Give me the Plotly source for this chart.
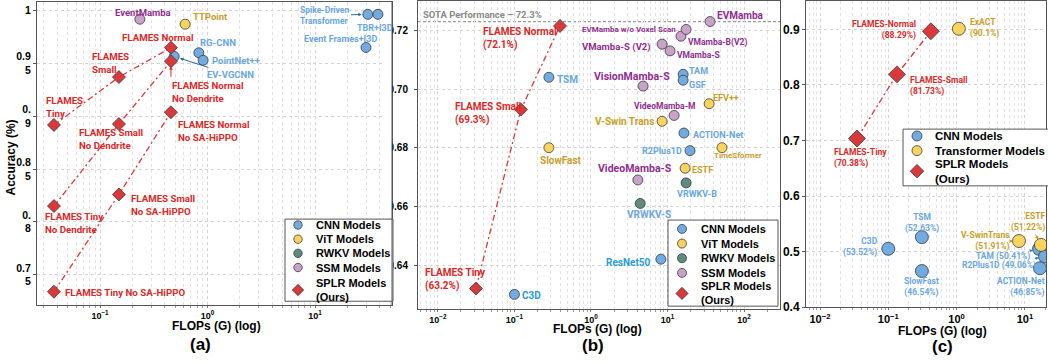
import numpy as np
import plotly.graph_objects as go

W, H = 1048, 364

# ---------------- Panel (a) data ----------------
a_cnn_labels = ["RG-CNN", "PointNet++", "EV-VGCNN", "Spike-Driven<br>Transformer", "TBR+I3D", "Event Frames+I3D"]
a_cnn_flops = [0.83, 0.91, 0.49, 31.0, 38.5, 29.8]
a_cnn_acc = [0.960, 0.9528, 0.9565, 0.9963, 0.9963, 0.965]
a_vit_labels = ["TTPoint"]
a_vit_flops = [0.62]
a_vit_acc = [0.987]
a_ssm_labels = ["EventMamba"]
a_ssm_flops = [0.235]
a_ssm_acc = [0.9917]
a_splr_flops = [0.0373, 0.150, 0.457]
a_full_acc = [0.8917, 0.937, 0.9648]
a_full_labels = ["FLAMES<br>Tiny", "FLAMES<br>Small", "FLAMES Normal"]
a_nodend_acc = [0.815, 0.8926, 0.952]
a_nodend_labels = ["FLAMES Tiny<br>No Dendrite", "FLAMES Small<br>No Dendrite", "FLAMES Normal<br>No Dendrite"]
a_nohippo_acc = [0.734, 0.826, 0.9037]
a_nohippo_labels = ["FLAMES Tiny No SA-HiPPO", "FLAMES Small<br>No SA-HiPPO", "FLAMES Normal<br>No SA-HiPPO"]
a_ytick_vals = [0.75, 0.8, 0.85, 0.9, 0.95, 1.0]
a_ytick_text = ["0.7<br>5", "0.<br>8", "0.8<br>5", "0.<br>9", "0.9<br>5", "1"]

# ---------------- Panel (b) data ----------------
b_cnn_labels = ["TSM", "C3D", "TAM", "GSF", "ACTION-Net", "R2Plus1D", "ResNet50"]
b_cnn_flops = [0.282, 0.1, 16.0, 16.0, 16.4, 19.7, 8.2]
b_cnn_acc = [0.704, 0.630, 0.705, 0.703, 0.685, 0.679, 0.642]
b_vit_labels = ["SlowFast", "V-Swin Trans", "EFV++", "TimeSformer", "ESTF"]
b_vit_flops = [0.282, 8.5, 35.0, 51.5, 17.0]
b_vit_acc = [0.680, 0.689, 0.695, 0.680, 0.673]
b_rwkv_labels = ["VRWKV-S", "VRWKV-B"]
b_rwkv_flops = [4.4, 17.5]
b_rwkv_acc = [0.661, 0.668]
b_ssm_labels = ["VisionMamba-S", "VMamba-S (V2)", "VMamba-S", "VMamba-B(V2)",
                "EVMamba w/o Voxel Scan", "EVMamba", "VideoMamba-M", "VideoMamba-S"]
b_ssm_flops = [4.8, 8.5, 10.8, 15.0, 17.5, 36.0, 12.2, 4.1]
b_ssm_acc = [0.701, 0.7153, 0.713, 0.718, 0.7203, 0.723, 0.691, 0.669]
b_splr_labels = ["FLAMES Tiny<br>(63.2%)", "FLAMES Small<br>(69.3%)", "FLAMES Normal<br>(72.1%)"]
b_splr_flops = [0.0314, 0.1215, 0.394]
b_splr_acc = [0.632, 0.693, 0.7215]
b_sota = 0.723
b_ytick_vals = [0.64, 0.66, 0.68, 0.70, 0.72]
b_ytick_text = ["0.64", "0.66", "0.68", "0.70", "0.72"]

# ---------------- Panel (c) data ----------------
c_cnn_labels = ["C3D<br>(53.52%)", "TSM<br>(52.63%)", "SlowFast<br>(46.54%)", "TAM (50.41%)",
                "R2Plus1D (49.06%)", "ACTION-Net<br>(46.85%)"]
c_cnn_flops = [0.1, 0.31, 0.31, 16.1, 19.7, 16.6]
c_cnn_acc = [0.505, 0.526, 0.465, 0.505, 0.491, 0.470]
c_tr_labels = ["ExACT<br>(90.1%)", "V-SwinTrans<br>(51.91%)", "ESTF<br>(51.22%)"]
c_tr_flops = [1.08, 8.2, 17.2]
c_tr_acc = [0.901, 0.519, 0.512]
c_splr_labels = ["FLAMES-Tiny<br>(70.38%)", "FLAMES-Small<br>(81.73%)", "FLAMES-Normal<br>(88.29%)"]
c_splr_flops = [0.0348, 0.134, 0.42]
c_splr_acc = [0.7035, 0.819, 0.8965]
c_ytick_vals = [0.4, 0.5, 0.6, 0.7, 0.8, 0.9]

legend_ab = ["CNN Models", "ViT Models", "RWKV Models", "SSM Models", "SPLR Models<br>(Ours)"]
legend_c = ["CNN Models", "Transformer Models", "SPLR Models<br>(Ours)"]

# ---------------- styles ----------------
CNN_F, VIT_F, RWKV_F, SSM_F, SPLR_F = "#72AAE2", "#F8D35F", "#5E8C7E", "#C9A2C9", "#D9393B"
CNN_T, CNN_T2, VIT_T, SSM_T, SPLR_T = "#6BA6DC", "#2C9BD0", "#C79E2C", "#8E2D8E", "#D42A2A"
EDGE = "#3a3a3a"
LF = "Roboto"
TF = "Liberation Sans"

# label styles: (anchor, xshift, yshift, size) ; anchor 'arrow' -> (ax, ay)
a_cnn_sty = [("left", -1, 10, 9.5), ("left", 7, 0, 9.5), ("arrow", 56, 18, 9.5),
             ("arrow", -43, 1, 8.5), ("center", -3, -14, 9), ("center", -26, 8, 9)]
a_vit_sty = [("left", 6, 8, 9.5)]
a_ssm_sty = [("center", 3, 7, 9.5)]
a_full_sty = [("left", -10, 18, 9.7), ("left", -29, 14, 9.7), ("center", -13, 10, 9.7)]
a_nodend_sty = [("left", -11, -17, 9.7), ("left", -42, -15, 9.7), ("left", -1, -31, 9.7)]
a_nohippo_sty = [("left", 9, -1, 9.7), ("left", 10, -11, 9.7), ("left", 5, -19, 9.7)]

b_cnn_sty = [("left", 6, -2, 10), ("left", 6, -1, 10), ("left", 4, 3, 9), ("left", 4, -5, 9),
             ("left", 7, -2, 9), ("right", -6, 0, 9), ("right", -8, -3, 10)]
b_cnn_col = [CNN_T, CNN_T2, CNN_T, CNN_T, CNN_T, CNN_T, CNN_T2]
b_vit_sty = [("center", 12, -13, 10), ("right", -6, 0, 10), ("left", 2, 6, 9),
             ("center", 16, -8, 8), ("left", 5, -2, 9)]
b_rwkv_sty = [("center", 9, -11, 10), ("center", 11, -11, 9)]
b_ssm_sty = [("center", -11, 10, 10.5), ("right", -9, -3, 9.5), ("left", 5, -4, 8.5),
             ("left", 5, -6, 8.5), ("right", -8, 0, 8), ("left", 5, 6, 10),
             ("center", -10, 9, 8.5), ("center", -3, 11, 10.5)]
b_splr_sty = [("left", -53, 9, 10), ("left", -68, -4, 10), ("left", -79, -13, 10)]

c_cnn_sty = [("right", -8, 2, 8.5), ("center", 0, 14.5, 8.5), ("center", 0, -16, 8.5),
             ("arrow", -36, 8, 8.5), ("arrow", -46, 9, 8.5), ("right", 7, -19, 8.5)]
c_tr_sty = [("left", 9, 1, 8.5), ("arrow", -34, 0, 8.5), ("arrow", -12, -23, 8.5)]
c_splr_sty = [("left", -25, -19, 8.5), ("left", 11, -12, 8.5), ("right", -13, 1, 8.5)]

fig = go.Figure()
annotations = []
shapes = []


def add_markers(k, xs, ys, color, symbol, size):
    xr = "x" if k == 1 else f"x{k}"
    yr = "y" if k == 1 else f"y{k}"
    fig.add_trace(go.Scatter(x=xs, y=ys, xaxis=xr, yaxis=yr, mode="markers", showlegend=False,
                             marker=dict(color=color, symbol=symbol, size=size,
                                         line=dict(color=EDGE, width=0.8)), hoverinfo="skip"))


def add_line(k, xs, ys):
    xr = "x" if k == 1 else f"x{k}"
    yr = "y" if k == 1 else f"y{k}"
    fig.add_trace(go.Scatter(x=xs, y=ys, xaxis=xr, yaxis=yr, mode="lines", showlegend=False,
                             line=dict(color=SPLR_F, width=1.3, dash="6px,3px,2px,3px"),
                             hoverinfo="skip"))


def add_labels(k, xs, ys, texts, styles, colors, arrowcolors=None):
    xr = "x" if k == 1 else f"x{k}"
    yr = "y" if k == 1 else f"y{k}"
    if isinstance(colors, str):
        colors = [colors] * len(xs)
    for i, (x, y, t, s) in enumerate(zip(xs, ys, texts, styles)):
        mode, p1, p2, size = s
        d = dict(xref=xr, yref=yr, x=float(np.log10(x)), y=y, text=t,
                 font=dict(family=LF, size=size, color=colors[i], weight="bold"))
        if mode == "arrow":
            ac = arrowcolors if arrowcolors else colors[i]
            d.update(showarrow=True, ax=p1, ay=p2, arrowcolor=ac, arrowwidth=1,
                     arrowhead=2, arrowsize=0.7, standoff=6, xanchor="center",
                     yanchor="middle", align="left" if p1 < 0 and k == 1 else ("right" if p1 < 0 else "center"))
        else:
            d.update(showarrow=False, xanchor=mode, yanchor="middle", xshift=p1, yshift=p2,
                     align=mode)
        annotations.append(d)


# ---- panel a ----
add_line(1, a_splr_flops, a_full_acc)
add_line(1, a_splr_flops, a_nodend_acc)
add_line(1, a_splr_flops, a_nohippo_acc)
add_markers(1, a_cnn_flops, a_cnn_acc, CNN_F, "circle", 10)
add_markers(1, a_vit_flops, a_vit_acc, VIT_F, "circle", 10)
add_markers(1, a_ssm_flops, a_ssm_acc, SSM_F, "circle", 10)
add_markers(1, a_splr_flops * 3, a_full_acc + a_nodend_acc + a_nohippo_acc, SPLR_F, "diamond", 10)
add_labels(1, a_cnn_flops, a_cnn_acc, a_cnn_labels, a_cnn_sty, CNN_T, "#2D6A9A")
add_labels(1, a_vit_flops, a_vit_acc, a_vit_labels, a_vit_sty, VIT_T)
add_labels(1, a_ssm_flops, a_ssm_acc, a_ssm_labels, a_ssm_sty, SSM_T)
add_labels(1, a_splr_flops, a_full_acc, a_full_labels, a_full_sty, SPLR_T)
add_labels(1, a_splr_flops, a_nodend_acc, a_nodend_labels, a_nodend_sty, SPLR_T)
add_labels(1, a_splr_flops, a_nohippo_acc, a_nohippo_labels, a_nohippo_sty, SPLR_T)
# small red arrow pointing at FLAMES Normal No Dendrite
annotations.append(dict(xref="x", yref="y", x=float(np.log10(a_splr_flops[2])), y=a_nodend_acc[2],
                        text="", showarrow=True, ax=0, ay=17, arrowcolor=SPLR_T, arrowwidth=1,
                        arrowhead=2, arrowsize=0.7, standoff=5))

# ---- panel b ----
add_line(2, b_splr_flops, b_splr_acc)
add_markers(2, b_cnn_flops, b_cnn_acc, CNN_F, "circle", 10)
add_markers(2, b_vit_flops, b_vit_acc, VIT_F, "circle", 10)
add_markers(2, b_rwkv_flops, b_rwkv_acc, RWKV_F, "circle", 10)
add_markers(2, b_ssm_flops, b_ssm_acc, SSM_F, "circle", 10)
add_markers(2, b_splr_flops, b_splr_acc, SPLR_F, "diamond", 10)
add_labels(2, b_cnn_flops, b_cnn_acc, b_cnn_labels, b_cnn_sty, b_cnn_col)
add_labels(2, b_vit_flops, b_vit_acc, b_vit_labels, b_vit_sty, VIT_T)
add_labels(2, b_rwkv_flops, b_rwkv_acc, b_rwkv_labels, b_rwkv_sty, CNN_T)
add_labels(2, b_ssm_flops, b_ssm_acc, b_ssm_labels, b_ssm_sty, SSM_T)
add_labels(2, b_splr_flops, b_splr_acc, b_splr_labels, b_splr_sty, SPLR_T)
shapes.append(dict(type="line", xref="x2 domain", yref="y2", x0=0, x1=1, y0=b_sota, y1=b_sota,
                   line=dict(color="#9a9a9a", width=1.2, dash="3px,2px"), layer="below"))
annotations.append(dict(xref="x2 domain", yref="y2", x=0.008, y=b_sota, xanchor="left",
                        yanchor="bottom", yshift=0, showarrow=False,
                        text="SOTA Performance – 72.3%",
                        font=dict(family=LF, size=9.5, color="#8a8a8a", weight="bold")))

# ---- panel c ----
add_line(3, c_splr_flops, c_splr_acc)
add_markers(3, c_cnn_flops, c_cnn_acc, CNN_F, "circle", 13)
add_markers(3, c_tr_flops, c_tr_acc, VIT_F, "circle", 13)
add_markers(3, c_splr_flops, c_splr_acc, SPLR_F, "diamond", 13)
add_labels(3, c_cnn_flops, c_cnn_acc, c_cnn_labels, c_cnn_sty, CNN_T, "#3d7fb8")
add_labels(3, c_tr_flops, c_tr_acc, c_tr_labels, c_tr_sty, VIT_T, "#c9951a")
add_labels(3, c_splr_flops, c_splr_acc, c_splr_labels, c_splr_sty, SPLR_T)


# ---- custom legends (paper coordinates, pixels converted) ----
def px(x):
    return x / W


def py(y):
    return 1 - y / H


def add_legend(box, mx, tx, entries, rad, fsize):
    x0, y0, x1, y1 = box
    shapes.append(dict(type="rect", xref="paper", yref="paper", x0=px(x0), x1=px(x1),
                       y0=py(y1), y1=py(y0), fillcolor="white",
                       line=dict(color="#555", width=1), layer="above"))
    for (txt, color, sym, ym) in entries:
        if sym == "circle":
            shapes.append(dict(type="circle", xref="paper", yref="paper", xsizemode="pixel",
                               ysizemode="pixel", xanchor=px(mx), yanchor=py(ym),
                               x0=-rad, x1=rad, y0=-rad, y1=rad, fillcolor=color,
                               line=dict(color=EDGE, width=0.8), layer="above"))
        else:
            r = rad * 1.35
            shapes.append(dict(type="path", xref="paper", yref="paper", xsizemode="pixel",
                               ysizemode="pixel", xanchor=px(mx), yanchor=py(ym),
                               path=f"M 0 {r} L {r} 0 L 0 {-r} L {-r} 0 Z", fillcolor=color,
                               line=dict(color=EDGE, width=0.8), layer="above"))
        annotations.append(dict(xref="paper", yref="paper", x=px(tx), y=py(ym), xanchor="left",
                                yanchor="middle", showarrow=False, text=txt, align="left",
                                font=dict(family=TF, size=fsize, color="black", weight="bold")))


colors_ab = [CNN_F, VIT_F, RWKV_F, SSM_F, SPLR_F]
syms_ab = ["circle"] * 4 + ["diamond"]
add_legend((285, 223, 393, 307), 298, 314,
           list(zip(legend_ab, colors_ab, syms_ab, [229, 243.5, 258, 272.5, 295.5])), 4.2, 11)
add_legend((668, 224, 778, 312), 682, 699,
           list(zip(legend_ab, colors_ab, syms_ab, [233, 248, 263, 278, 299])), 4.5, 11)
add_legend((903, 131, 1060, 189), 917, 933,
           list(zip(legend_c, [CNN_F, VIT_F, SPLR_F], ["circle", "circle", "diamond"],
                    [138, 153, 174])), 5, 11.5)

# white strip: panel (a) frame hides the leading digit of panel (b) tick labels
shapes.append(dict(type="rect", xref="paper", yref="paper", x0=px(384), x1=px(392),
                   y0=py(222), y1=py(1), fillcolor="white", line=dict(width=0), layer="above"))
shapes.append(dict(type="line", xref="paper", yref="paper", x0=px(392), x1=px(392),
                   y0=py(311), y1=py(1), line=dict(color="#555", width=1), layer="above"))


# ---- titles ----
def title(x, y, t, size, angle=0):
    annotations.append(dict(xref="paper", yref="paper", x=px(x), y=py(y), text=t, showarrow=False,
                            xanchor="center", yanchor="middle", textangle=angle,
                            font=dict(family=TF, size=size, color="black", weight="bold")))


title(11, 160, "Accuracy (%)", 12, -90)
title(216, 332, "FLOPs (G) (log)", 12)
title(597, 335, "FLOPs (G) (log)", 12)
title(942, 337, "FLOPs (G) (log)", 12)
title(200, 351, "(a)", 17)
title(593, 352, "(b)", 17)
title(942, 353, "(c)", 17)

GRID = "#d4d4d4"
MINOR = "#e2e2e2"


def decades(lo, hi):
    return [10.0 ** e for e in range(lo, hi + 1)]


def decade_text(lo, hi):
    return ["10<sup>" + (str(e) if e >= 0 else "\u2212" + str(-e)) + "</sup>"
            for e in range(lo, hi + 1)]


def minor_vals(lo, hi):
    return [m * 10.0 ** e for e in range(lo, hi + 1) for m in range(2, 10)]


def xax(domain, rng, anchor, fsize, lo, hi):
    return dict(type="log", domain=domain, range=rng, anchor=anchor,
                tickmode="array", tickvals=decades(lo, hi), ticktext=decade_text(lo, hi),
                showline=True, linecolor="#555", linewidth=1, mirror=True,
                ticks="outside", ticklen=2, tickcolor="#777", showgrid=True, gridcolor=GRID,
                griddash="dot", zeroline=False,
                tickfont=dict(family=TF, size=fsize, color="black", weight="bold"),
                minor=dict(tickmode="array", tickvals=minor_vals(lo, hi), showgrid=True,
                           gridcolor=MINOR, griddash="dot", ticks="outside", ticklen=2,
                           tickcolor="#999"))


def yax(domain, rng, anchor, vals, text, fsize, standoff=0):
    return dict(domain=domain, range=rng, anchor=anchor, tickvals=vals, ticktext=text,
                showline=True, linecolor="#555", linewidth=1, mirror=True, ticks="outside",
                ticklen=3, tickcolor="#555", showgrid=True, gridcolor=GRID, griddash="dot",
                zeroline=False, ticklabelstandoff=standoff,
                tickfont=dict(family=TF, size=fsize, color="black", weight="bold"))


fig.update_layout(
    width=W, height=H, margin=dict(l=0, r=0, t=0, b=0),
    paper_bgcolor="white", plot_bgcolor="white", showlegend=False,
    xaxis=xax([px(37), px(392)], [-1.586, 1.716], "y", 9, -2, 1),
    yaxis=yax([py(311), py(1)], [0.7213, 1.008], "x", a_ytick_vals, a_ytick_text, 10.5),
    xaxis2=xax([px(418), px(780)], [-2.26, 2.47], "y2", 9, -3, 2),
    yaxis2=yax([py(315), 1.0], [0.625, 0.73], "x2", b_ytick_vals, b_ytick_text, 10, 4),
    xaxis3=xax([px(806), px(1046)], [-2.205, 1.309], "y3", 11, -3, 1),
    yaxis3=yax([py(313), 1.0], [0.4, 0.951], "x3", c_ytick_vals,
               [f"{v:.1f}" for v in c_ytick_vals], 12),
    annotations=annotations, shapes=shapes,
)

fig.write_html("out.html", config={"displayModeBar": False},
               post_script="document.body.style.margin='0';document.body.style.overflow='hidden';")
